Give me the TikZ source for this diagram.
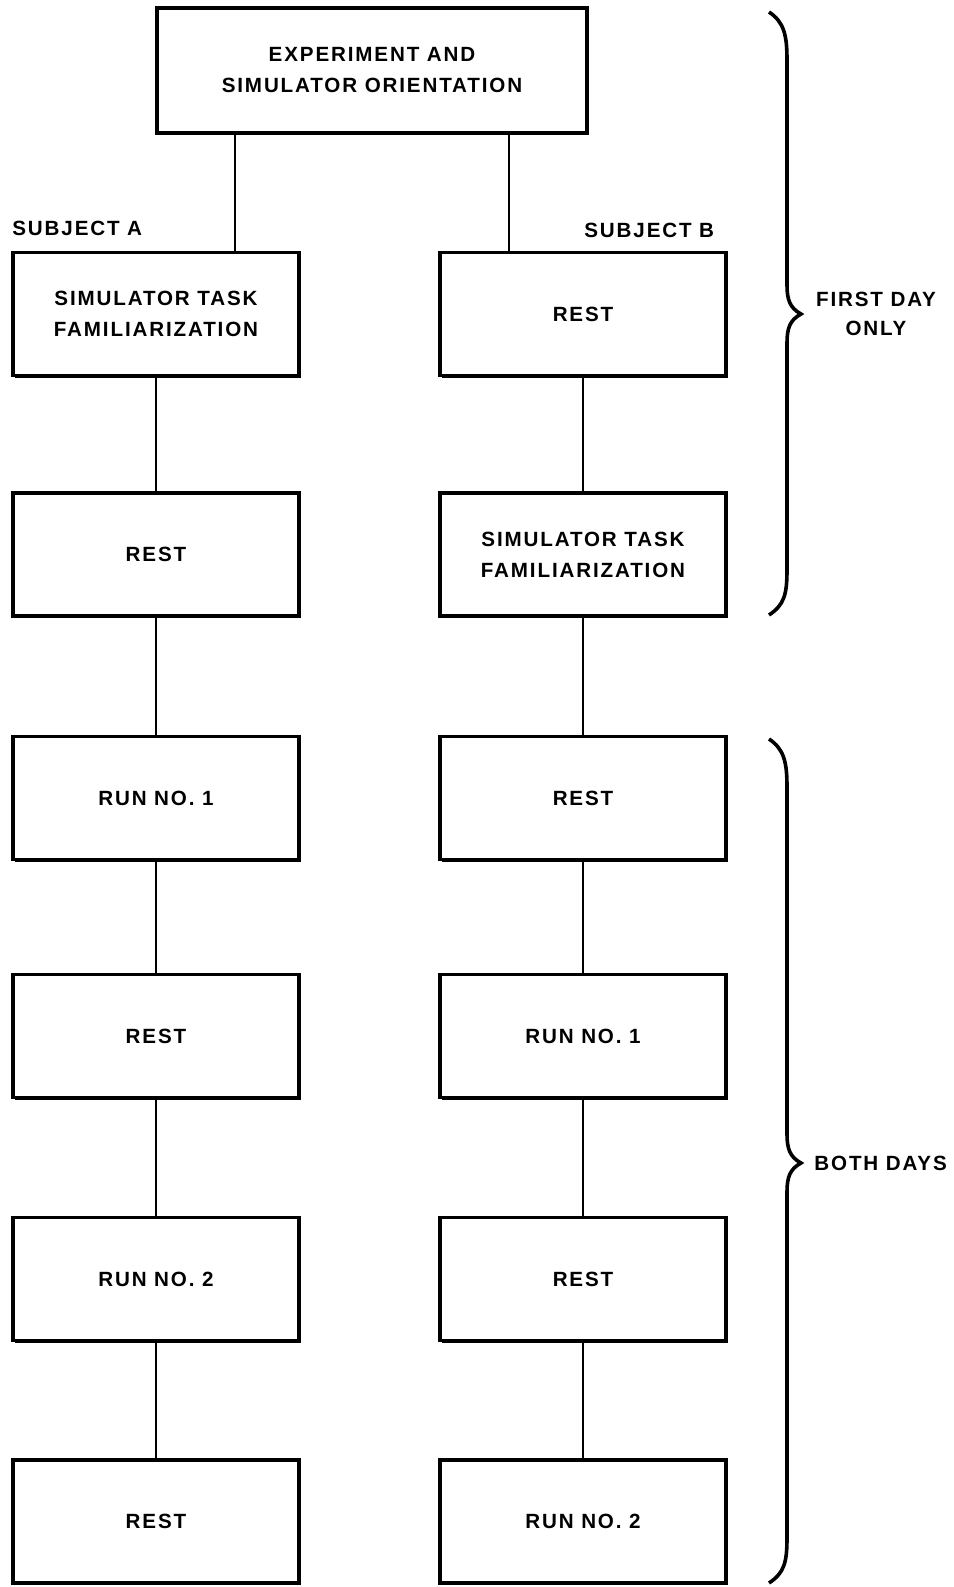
\documentclass[tikz,border=0pt]{standalone}
\usepackage{fontspec}
\setmainfont{Liberation Sans}[LetterSpace=9]
\usetikzlibrary{shadows}
\tikzset{
  box/.style={draw, line width=1.6pt, fill=white, minimum width=143pt, minimum height=61.5pt,
    inner sep=0pt, align=center, font=\bfseries\fontsize{10.3}{15.5}\selectfont,
    drop shadow={shadow xshift=1.2pt, shadow yshift=-1.2pt, fill=black, opacity=1}},
  lbl/.style={font=\bfseries\fontsize{10.3}{14.5}\selectfont, inner sep=0pt, align=center},
  conn/.style={line width=1.2pt},
  brace/.style={line width=1.8pt}
}
\begin{document}
\begin{tikzpicture}[x=0.5pt,y=-0.5pt]
\useasboundingbox (0,0) rectangle (954,1587);
% top
\node[box, minimum width=215pt, minimum height=62.5pt] (top) at (372,70.5) {EXPERIMENT AND\\SIMULATOR ORIENTATION};
% subject A column
\node[box] (A1) at (156,314) {SIMULATOR TASK\\FAMILIARIZATION};
\node[box] (A2) at (156,554.5) {REST};
\node[box] (A3) at (156,798) {RUN NO. 1};
\node[box] (A4) at (156,1036) {REST};
\node[box] (A5) at (156,1279) {RUN NO. 2};
\node[box] (A6) at (156,1521.5) {REST};
% subject B column
\node[box] (B1) at (583,314) {REST};
\node[box] (B2) at (583,554.5) {SIMULATOR TASK\\FAMILIARIZATION};
\node[box] (B3) at (583,798) {REST};
\node[box] (B4) at (583,1036) {RUN NO. 1};
\node[box] (B5) at (583,1279) {REST};
\node[box] (B6) at (583,1521.5) {RUN NO. 2};
% labels
\node[lbl, anchor=west] (sa) at (12,228) {SUBJECT A};
\node[lbl, anchor=west] (sb) at (584,230) {SUBJECT B};
\node[lbl] (fd) at (876,314) {FIRST DAY\\ONLY};
\node[lbl, anchor=west] (bd) at (814,1163) {BOTH DAYS};
% connectors
\draw[conn] (top.south -| 235,0) -- (A1.north -| 235,0);
\draw[conn] (top.south -| 509,0) -- (B1.north -| 509,0);
\foreach \a/\b in {A1/A2,A2/A3,A3/A4,A4/A5,A5/A6,B1/B2,B2/B3,B3/B4,B4/B5,B5/B6}
  \draw[conn] (\a.south) -- (\b.north);
% braces
\draw[brace] (769,12) .. controls (784,22) and (787,35) .. (787,60) -- (787,285)
  .. controls (787,300) and (790,308) .. (801,314)
  .. controls (790,320) and (787,328) .. (787,343) -- (787,570)
  .. controls (787,595) and (784,605) .. (769,615);
\draw[brace] (769,739) .. controls (784,749) and (787,762) .. (787,787) -- (787,1134)
  .. controls (787,1149) and (790,1157) .. (801,1163)
  .. controls (790,1169) and (787,1177) .. (787,1192) -- (787,1538)
  .. controls (787,1563) and (784,1573) .. (769,1583);
\end{tikzpicture}
\end{document}
